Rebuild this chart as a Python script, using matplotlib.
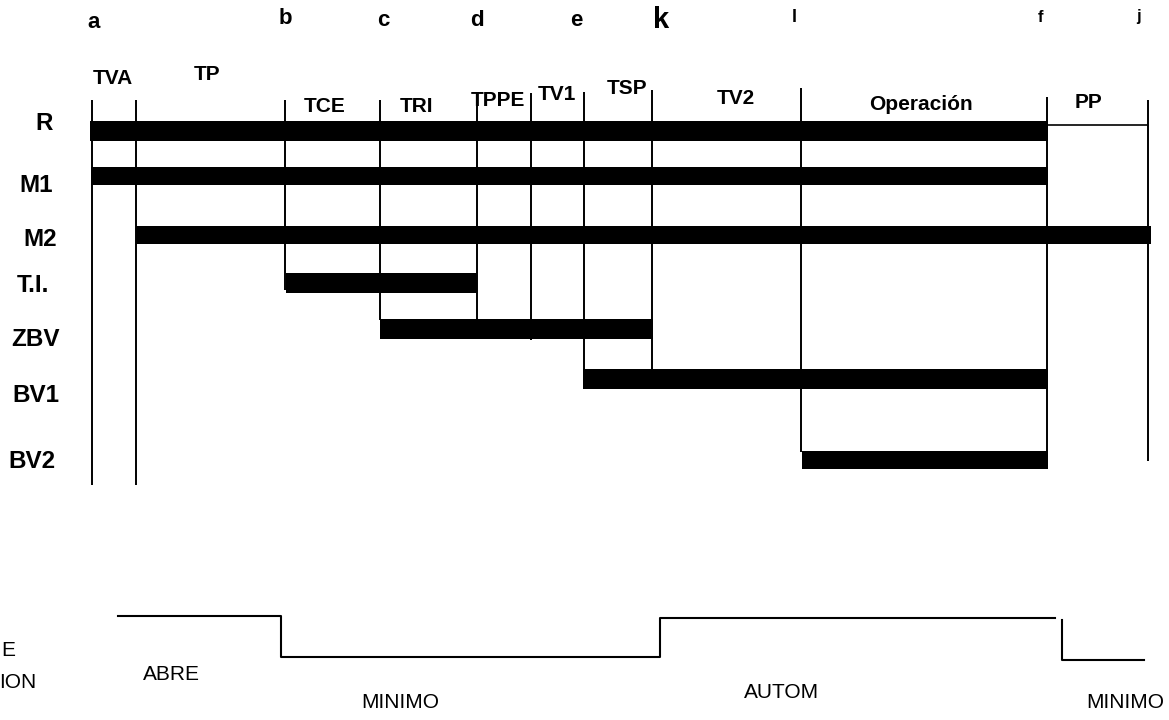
import matplotlib
matplotlib.use('Agg')
import matplotlib.pyplot as plt

plt.rcParams['font.family'] = ['Liberation Sans', 'DejaVu Sans']

# Event instants along the time axis (drawing units, left to right)
events = ['a', 'tva', 'b', 'c', 'd', 'tppe', 'e', 'k', 'l', 'f', 'j']
event_t = [92, 136, 285, 380, 477, 531, 584, 652, 801, 1047, 1148]
# extent of each marker line (top, bottom)
event_top = [100, 100, 100, 100, 95, 93, 92, 90, 88, 97, 100]
event_bottom = [485, 485, 290, 320, 320, 340, 370, 370, 452, 463, 461]

# Top letters
letters = ['a', 'b', 'c', 'd', 'e', 'k', 'l', 'f', 'j']
letter_x = [94, 285, 383, 477, 576, 661, 794, 1040, 1139]
letter_y = [22, 19, 20, 20, 20, 20, 18, 18, 16]
letter_size = [16, 16, 16, 16, 16, 21, 13, 12, 12]

# Phase names
phases = ['TVA', 'TP', 'TCE', 'TRI', 'TPPE', 'TV1', 'TSP', 'TV2', 'Operación', 'PP']
phase_x = [113, 207, 325, 417, 498, 557, 627, 736, 921, 1089]
phase_y = [79, 75, 107, 107, 101, 94, 88, 99, 104, 102]

# Equipment rows and on-intervals
rows = ['R', 'M1', 'M2', 'T.I.', 'ZBV', 'BV1', 'BV2']
row_y = [131, 176, 235, 283, 329, 379, 460]
row_h = [20, 18, 18, 20, 20, 20, 18]
bar_start = [90, 91, 136, 286, 380, 583, 802]
bar_end = [1048, 1048, 1151, 477, 653, 1048, 1048]
row_label_x = [44, 36, 40, 33, 36, 36, 32]
row_label_y = [124, 186, 240, 286, 339, 395, 462]

# Valve opening profile (bottom)
step1_x = [118, 281, 281, 660, 660, 1055]
step1_y = [616, 616, 657, 657, 618, 618]
step2_x = [1062, 1062, 1144]
step2_y = [620, 660, 660]
modes = ['ABRE', 'MINIMO', 'AUTOM', 'MINIMO']
mode_x = [171, 400, 782, 1125]
mode_y = [675, 703, 692, 703]

fig = plt.figure(figsize=(11.69, 7.2), dpi=100)
ax = fig.add_axes([0, 0, 1, 1])
ax.set_xlim(0, 1169)
ax.set_ylim(720, 0)
ax.axis('off')

# marker lines
ax.vlines(event_t, event_top, event_bottom, colors='black', linewidth=1.4)
# R continues thin after f until j
ax.hlines(125, event_t[9], event_t[10], colors='black', linewidth=1.2)

# bars
widths = [e - s for s, e in zip(bar_start, bar_end)]
ax.barh(row_y, widths, left=bar_start, height=row_h, color='black')

for name, x, y in zip(rows, row_label_x, row_label_y):
    ax.text(x, y, name, ha='center', va='center', fontsize=17.5, fontweight='bold')

for name, x, y, s in zip(letters, letter_x, letter_y, letter_size):
    ax.text(x, y, name, ha='center', va='center', fontsize=s, fontweight='bold')

for name, x, y in zip(phases, phase_x, phase_y):
    ax.text(x, y, name, ha='center', va='center', fontsize=15, fontweight='bold')

ax.plot(step1_x, step1_y, color='black', linewidth=1.5)
ax.plot(step2_x, step2_y, color='black', linewidth=1.5)
for name, x, y in zip(modes, mode_x, mode_y):
    ax.text(x, y, name, ha='center', va='center', fontsize=15)

# left caption, only its tail is visible in the original
ax.text(1, 651, 'E', ha='left', va='center', fontsize=15)
ax.text(36, 683, 'ION', ha='right', va='center', fontsize=15)

fig.savefig('out.png', dpi=100)
plt.close(fig)
